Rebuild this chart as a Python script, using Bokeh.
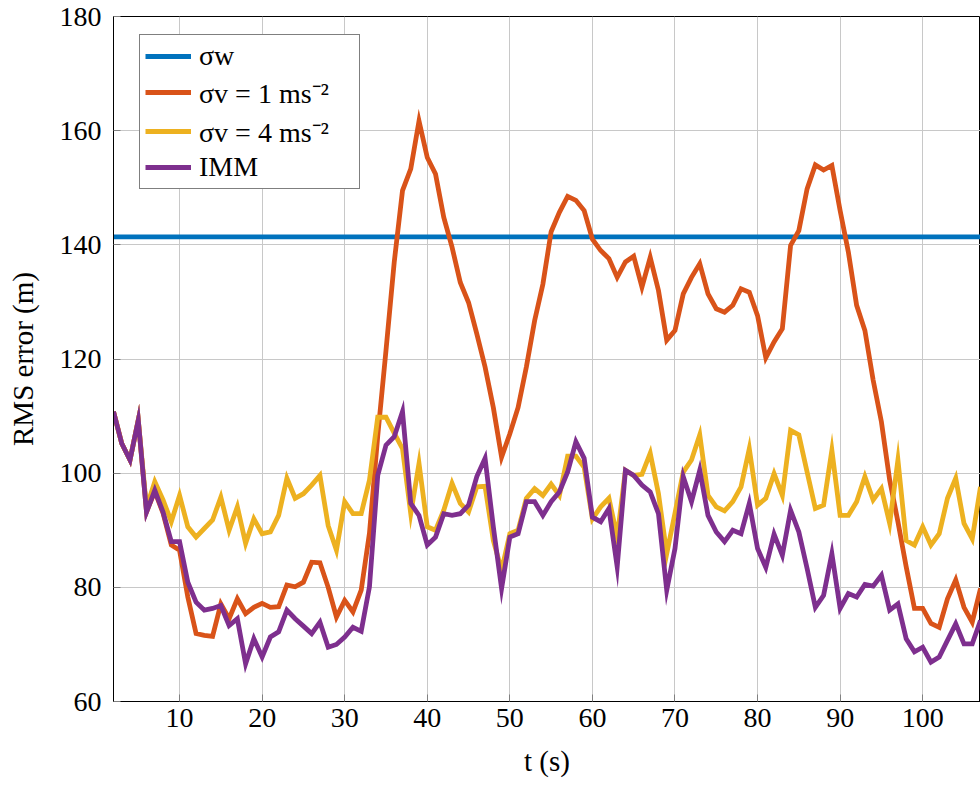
from bokeh.plotting import figure
from bokeh.models import Range1d, FixedTicker, Legend, LegendItem
from bokeh.embed import file_html
from bokeh.resources import INLINE

# ---------------- data ----------------
t = list(range(2, 108))

sigma_w_value = 141.4
sigma_w = [sigma_w_value for _ in t]

sigma_v1 = [110.8, 105.2, 102.3, 109.3, 93.2, 96.8, 93.0, 87.4, 86.5, 78.3,
            71.9, 71.6, 71.4, 77.1, 74.5, 78.0, 75.4, 76.5, 77.2, 76.5,
            76.6, 80.4, 80.1, 80.9, 84.4, 84.3, 80.0, 74.8, 77.7, 75.7,
            79.5, 89.5, 106.5, 121.5, 137.0, 149.5, 153.3, 161.7, 155.3, 152.4,
            144.8, 139.6, 133.4, 129.9, 124.4, 118.6, 111.5, 102.8, 106.9, 111.5,
            118.6, 126.7, 133.1, 142.3, 145.7, 148.5, 147.8, 146.0, 141.0, 139.0,
            137.6, 134.3, 137.0, 138.0, 132.6, 137.8, 132.0, 123.3, 125.0, 131.4,
            134.3, 136.7, 131.4, 128.8, 128.2, 129.4, 132.3, 131.7, 127.6, 120.2,
            123.0, 125.3, 139.9, 142.5, 149.8, 154.0, 153.1, 153.9, 146.0, 138.7,
            129.4, 125.0, 116.3, 109.0, 98.8, 91.5, 83.6, 76.3, 76.3, 73.7,
            73.0, 78.0, 81.3, 76.5, 73.9, 79.8]

sigma_v4 = [110.8, 105.2, 102.3, 109.3, 94.0, 98.5, 95.3, 91.5, 96.1, 90.6,
            88.8, 90.3, 91.8, 95.8, 90.0, 94.1, 87.7, 92.0, 89.4, 89.7,
            92.6, 99.1, 95.6, 96.4, 97.9, 99.6, 90.8, 86.5, 95.0, 92.9,
            92.9, 98.8, 109.8, 109.8, 107.0, 104.3, 92.9, 101.7, 90.6, 90.0,
            93.5, 98.2, 94.7, 93.2, 97.6, 97.7, 88.2, 83.0, 89.4, 90.0,
            95.6, 97.3, 96.1, 98.1, 96.1, 103.0, 103.0, 101.0, 92.0, 94.1,
            95.6, 88.8, 100.5, 99.6, 99.8, 103.5, 96.4, 85.9, 93.0, 100.2,
            102.3, 106.7, 96.1, 94.1, 93.4, 95.0, 97.6, 104.3, 94.4, 95.6,
            99.9, 96.1, 107.5, 106.7, 100.2, 93.8, 94.4, 104.0, 92.6, 92.6,
            95.0, 99.4, 95.3, 97.3, 91.2, 102.3, 88.2, 87.4, 90.6, 87.4,
            89.4, 95.6, 99.1, 91.2, 88.5, 97.6]

imm = [110.8, 105.2, 102.3, 109.3, 93.2, 97.0, 93.2, 88.0, 88.0, 80.9,
       77.4, 76.0, 76.3, 76.8, 73.3, 74.5, 66.6, 71.0, 67.8, 71.3,
       72.2, 76.0, 74.5, 73.2, 71.9, 73.9, 69.5, 70.0, 71.3, 73.0,
       72.3, 80.1, 99.6, 104.9, 106.4, 110.8, 94.7, 92.6, 87.4, 88.8,
       92.9, 92.6, 92.9, 94.4, 99.4, 102.6, 90.6, 79.8, 88.8, 89.4,
       95.0, 95.0, 92.6, 95.0, 96.7, 100.2, 105.5, 102.6, 92.3, 91.5,
       93.8, 83.6, 100.5, 99.6, 97.9, 96.7, 92.9, 79.5, 86.8, 99.4,
       95.0, 100.5, 92.6, 89.7, 88.0, 90.0, 89.4, 94.7, 86.8, 83.5,
       89.3, 85.6, 93.5, 89.7, 83.3, 76.5, 78.6, 85.9, 76.3, 78.9,
       78.3, 80.5, 80.2, 82.1, 76.0, 77.1, 71.0, 68.7, 69.5, 66.9,
       67.8, 70.7, 73.6, 70.1, 70.1, 74.2]

x_ticks = [10, 20, 30, 40, 50, 60, 70, 80, 90, 100]
y_ticks = [60, 80, 100, 120, 140, 160, 180]
labels = ["σw", "σv = 1 ms⁻²", "σv = 4 ms⁻²", "IMM"]
colors = ["#0072BD", "#D95319", "#EDB120", "#7E2F8E"]

FONT = "Liberation Serif"

# ---------------- figure ----------------
p = figure(width=980, height=785, output_backend="svg", toolbar_location=None,
           x_range=Range1d(2, 107), y_range=Range1d(60, 180),
           min_border_left=113, min_border_right=0, min_border_top=16,
           min_border_bottom=84)
p.background_fill_color = "white"
p.border_fill_color = "white"
p.outline_line_color = "black"
p.outline_line_width = 1

series = [sigma_w, sigma_v1, sigma_v4, imm]
renderers = []
for ys, c in zip(series, colors):
    r = p.line(t, ys, line_color=c, line_width=4.8, line_join="miter")
    renderers.append(r)

p.xaxis.ticker = FixedTicker(ticks=x_ticks)
p.yaxis.ticker = FixedTicker(ticks=y_ticks)
for ax in (p.xaxis[0], p.yaxis[0]):
    ax.axis_line_color = "black"
    ax.axis_line_width = 1
    ax.major_tick_in = 7
    ax.major_tick_out = 0
    ax.major_tick_line_color = "#808080"
    ax.minor_tick_line_color = None
    ax.major_label_text_font = FONT
    ax.major_label_text_font_size = "28px"
    ax.major_label_text_color = "black"
    ax.axis_label_text_font = FONT
    ax.axis_label_text_font_size = "29px"
    ax.axis_label_text_font_style = "normal"
    ax.axis_label_text_color = "black"

p.xaxis.axis_label = "t (s)"
p.yaxis.axis_label = "RMS error (m)"
p.xaxis.major_label_standoff = 7
p.xaxis.axis_label_standoff = 15
p.yaxis.major_label_standoff = 12
p.yaxis.axis_label_standoff = 18

p.grid.grid_line_color = "#c8c8c8"
p.grid.grid_line_width = 1

legend = Legend(items=[LegendItem(label=l, renderers=[r]) for l, r in zip(labels, renderers)],
                location=(26, 512))
legend.border_line_color = "black"
legend.border_line_width = 1
legend.background_fill_color = "white"
legend.background_fill_alpha = 1.0
legend.label_text_font = FONT
legend.label_text_font_size = "28px"
legend.label_text_color = "black"
legend.glyph_width = 46
legend.glyph_height = 30
legend.spacing = 1
legend.padding = 5
legend.margin = 0
legend.label_standoff = 8
legend.label_width = 155
p.add_layout(legend)

open("out.html", "w").write(file_html(p, INLINE))
